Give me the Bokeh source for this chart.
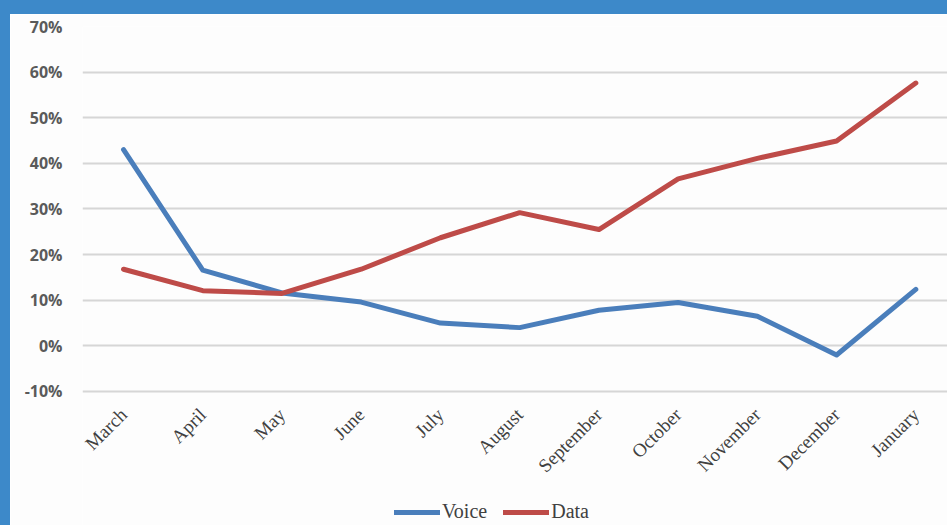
import math
from bokeh.plotting import figure
from bokeh.layouts import column, row
from bokeh.models import (Range1d, FixedTicker, PrintfTickFormatter, Legend, LegendItem,
                          ColumnDataSource, Spacer)
from bokeh.embed import file_html
from bokeh.resources import INLINE

months = ["March", "April", "May", "June", "July", "August", "September",
          "October", "November", "December", "January"]
voice = [43.0, 16.6, 11.6, 9.6, 5.0, 4.0, 7.8, 9.5, 6.5, -2.0, 12.4]
data = [16.8, 12.1, 11.5, 16.8, 23.7, 29.2, 25.5, 36.6, 41.1, 44.9, 57.6]
y_ticks = [-10, 0, 10, 20, 30, 40, 50, 60, 70]

x = list(range(len(months)))
src = ColumnDataSource(dict(x=x, voice=voice, data=data))

p = figure(width=937, height=511, output_backend="svg", toolbar_location=None,
           x_range=Range1d(-0.518, 10.40), y_range=Range1d(-39.37, 70),
           min_border_left=72, min_border_right=0, min_border_top=12,
           min_border_bottom=0)
p.outline_line_color = None
p.background_fill_color = "#fdfdfd"
p.border_fill_color = "#fdfdfd"

# axes
p.yaxis.ticker = FixedTicker(ticks=y_ticks)
p.yaxis.formatter = PrintfTickFormatter(format="%d%%")
p.yaxis.axis_line_color = None
p.yaxis.major_tick_line_color = None
p.yaxis.minor_tick_line_color = None
p.yaxis.major_label_standoff = 14
p.yaxis.major_label_text_font = "Open Sans"
p.yaxis.major_label_text_font_style = "bold"
p.yaxis.major_label_text_font_size = "16px"
p.yaxis.major_label_text_color = "#5a5a5a"

p.xaxis.fixed_location = -10
p.xaxis.ticker = FixedTicker(ticks=x)
p.xaxis.major_label_overrides = {i: m for i, m in enumerate(months)}
p.xaxis.major_label_orientation = math.pi / 4
p.xaxis.axis_line_color = None
p.xaxis.major_tick_line_color = None
p.xaxis.minor_tick_line_color = None
p.xaxis.major_label_standoff = 14
p.xaxis.major_label_text_font = "Liberation Serif"
p.xaxis.major_label_text_font_size = "19px"
p.xaxis.major_label_text_color = "#404040"

p.xgrid.grid_line_color = None
p.ygrid.grid_line_color = "#d6d6d6"
p.ygrid.grid_line_width = 2

rv = p.line("x", "voice", source=src, line_color="#4a7ebb", line_width=5,
            line_join="round", line_cap="round")
rd = p.line("x", "data", source=src, line_color="#be4b48", line_width=5,
            line_join="round", line_cap="round")

legend = Legend(items=[LegendItem(label="Voice", renderers=[rv]),
                       LegendItem(label="Data", renderers=[rd])],
                location=(312, 2), orientation="horizontal",
                glyph_width=46, glyph_height=20, label_height=20,
                label_standoff=2, spacing=16, padding=0, margin=0,
                border_line_color=None, background_fill_alpha=0,
                label_text_font="Liberation Serif", label_text_font_size="20px",
                label_text_color="#404040")
p.add_layout(legend, "center")

blue = "#3d89c9"
left_strip = Spacer(width=10, height=525, styles={"background-color": blue})
top_strip = Spacer(width=937, height=14, styles={"background-color": blue})
layout = row(left_strip, column(top_strip, p))

open("out.html", "w").write(file_html(layout, INLINE))
